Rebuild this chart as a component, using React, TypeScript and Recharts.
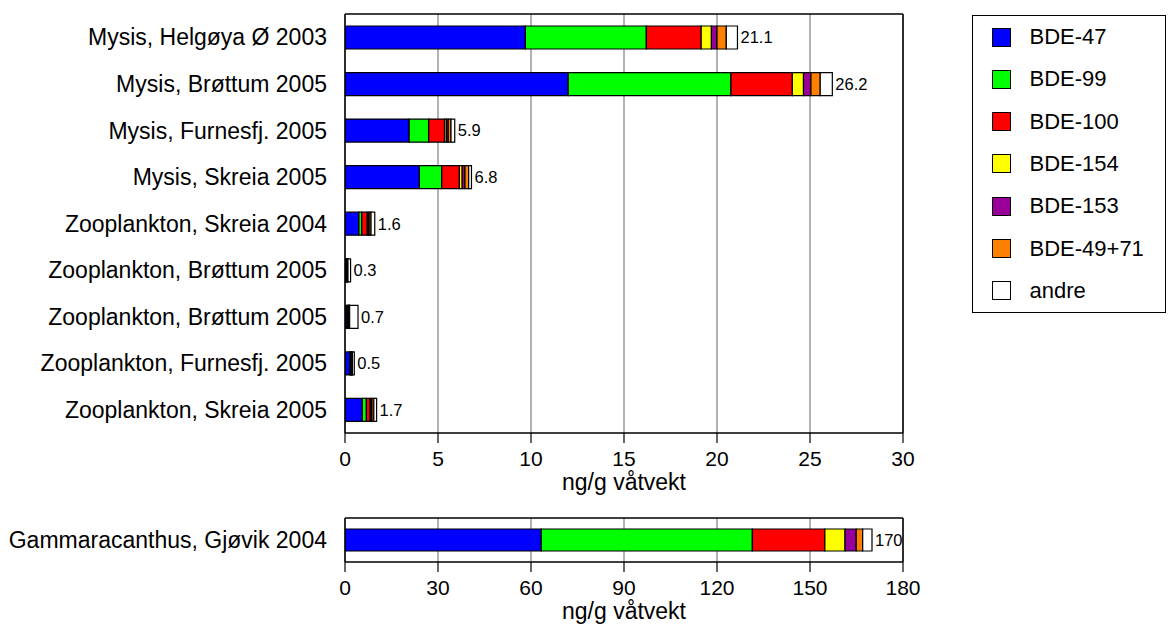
import React from 'react';
import { BarChart, Bar, XAxis, YAxis, CartesianGrid, LabelList } from 'recharts';

// ---- data (top chart, ng/g våtvekt) ----
const categories = [
  'Mysis, Helgøya Ø 2003',
  'Mysis, Brøttum 2005',
  'Mysis, Furnesfj. 2005',
  'Mysis, Skreia 2005',
  'Zooplankton, Skreia 2004',
  'Zooplankton, Brøttum 2005',
  'Zooplankton, Brøttum 2005',
  'Zooplankton, Furnesfj. 2005',
  'Zooplankton, Skreia 2005',
];
const bde47 = [9.7, 12.0, 3.45, 4.0, 0.75, 0.06, 0.1, 0.25, 0.93];
const bde99 = [6.5, 8.75, 1.05, 1.2, 0.15, 0.03, 0.05, 0.05, 0.22];
const bde100 = [2.95, 3.3, 0.85, 0.95, 0.3, 0.03, 0.05, 0.05, 0.2];
const bde154 = [0.55, 0.6, 0.1, 0.15, 0.05, 0.01, 0.02, 0.01, 0.05];
const bde153 = [0.3, 0.4, 0.1, 0.15, 0.05, 0.01, 0.01, 0.01, 0.05];
const bde4971 = [0.5, 0.5, 0.15, 0.2, 0.1, 0.02, 0.02, 0.03, 0.1];
const andre = [0.6, 0.65, 0.2, 0.15, 0.2, 0.14, 0.45, 0.1, 0.15];
const totalLabels = ['21.1', '26.2', '5.9', '6.8', '1.6', '0.3', '0.7', '0.5', '1.7'];

// ---- data (bottom chart) ----
const bottomCategories = ['Gammaracanthus, Gjøvik 2004'];
const gBde47 = [63.3];
const gBde99 = [68.1];
const gBde100 = [23.4];
const gBde154 = [6.5];
const gBde153 = [3.6];
const gBde4971 = [2.1];
const gAndre = [3.0];
const gTotalLabels = ['170'];

// ---- ticks ----
const topXTicks = [0, 5, 10, 15, 20, 25, 30];
const topMinorTicks = [0, 1, 2, 3, 4, 5, 6, 7, 8, 9, 10, 11, 12, 13, 14, 15, 16, 17, 18, 19, 20, 21, 22, 23, 24, 25, 26, 27, 28, 29, 30];
const topBoundaryTicks = [0, 1, 2, 3, 4, 5, 6, 7, 8, 9];
const bottomXTicks = [0, 30, 60, 90, 120, 150, 180];
const bottomMinorTicks = [0, 6, 12, 18, 24, 30, 36, 42, 48, 54, 60, 66, 72, 78, 84, 90, 96, 102, 108, 114, 120, 126, 132, 138, 144, 150, 156, 162, 168, 174, 180];
const bottomBoundaryTicks = [0, 1];

// ---- series ----
const seriesKeys = ['bde47', 'bde99', 'bde100', 'bde154', 'bde153', 'bde4971', 'andre'];
const seriesNames = ['BDE-47', 'BDE-99', 'BDE-100', 'BDE-154', 'BDE-153', 'BDE-49+71', 'andre'];
const seriesColors = ['#0000ff', '#00ff00', '#ff0000', '#ffff00', '#990099', '#ff8000', '#ffffff'];

const topData = categories.map((name, i) => ({
  idx: i,
  name,
  bde47: bde47[i],
  bde99: bde99[i],
  bde100: bde100[i],
  bde154: bde154[i],
  bde153: bde153[i],
  bde4971: bde4971[i],
  andre: andre[i],
  label: totalLabels[i],
}));

const bottomData = bottomCategories.map((name, i) => ({
  idx: i,
  name,
  bde47: gBde47[i],
  bde99: gBde99[i],
  bde100: gBde100[i],
  bde154: gBde154[i],
  bde153: gBde153[i],
  bde4971: gBde4971[i],
  andre: gAndre[i],
  label: gTotalLabels[i],
}));

const FONT = '"Liberation Sans", Arial, Helvetica, sans-serif';
const axisStroke = { stroke: '#000', strokeWidth: 1.5 };
const tickStroke = { stroke: '#000', strokeWidth: 1.2 };

function renderBars(barSize: number) {
  return seriesKeys.map((k, j) => (
    <Bar
      key={k}
      dataKey={k}
      name={seriesNames[j]}
      stackId="s"
      yAxisId="cat"
      fill={seriesColors[j]}
      stroke="#000"
      strokeWidth={1.2}
      barSize={barSize}
      isAnimationActive={false}
    >
      {j === seriesKeys.length - 1 ? (
        <LabelList dataKey="label" position="right" offset={3} fontSize={16.5} fill="#000" />
      ) : null}
    </Bar>
  ));
}

function StackChart(props: {
  data: any[];
  names: string[];
  domainMax: number;
  ticks: number[];
  minorTicks: number[];
  boundaryTicks: number[];
  width: number;
  height: number;
  top: number;
  bottom: number;
  barSize: number;
  catFont: number;
}) {
  const { data, names, domainMax, ticks, minorTicks, boundaryTicks, width, height, top, bottom, barSize, catFont } = props;
  const nRows = data.length;
  return (
    <BarChart
      layout="vertical"
      width={width}
      height={height}
      data={data}
      margin={{ top, right: 56, bottom, left: 0 }}
    >
      <CartesianGrid horizontal={false} stroke="#666" strokeWidth={1} yAxisId="cat" />
      <XAxis
        type="number"
        domain={[0, domainMax]}
        ticks={ticks}
        interval={0}
        tickSize={10}
        tickMargin={8}
        tick={{ fontSize: 21, fill: '#000' }}
        tickLine={tickStroke}
        axisLine={axisStroke}
        height={1}
        allowDataOverflow
        label={{ value: 'ng/g våtvekt', position: 'bottom', offset: 40, fontSize: 23, fill: '#000' }}
      />
      <XAxis
        type="number"
        xAxisId="minor"
        domain={[0, domainMax]}
        ticks={minorTicks}
        interval={0}
        tick={false}
        tickSize={4}
        tickLine={tickStroke}
        axisLine={false}
        height={1}
        allowDataOverflow
      />
      <XAxis
        type="number"
        xAxisId="top"
        orientation="top"
        domain={[0, domainMax]}
        tick={false}
        tickLine={false}
        axisLine={axisStroke}
        height={1}
        allowDataOverflow
      />
      <YAxis
        yAxisId="bnd"
        type="number"
        domain={[0, nRows]}
        ticks={boundaryTicks}
        interval={0}
        tick={false}
        tickSize={11}
        tickLine={tickStroke}
        axisLine={axisStroke}
        width={1}
        allowDataOverflow
      />
      <YAxis
        yAxisId="cat"
        type="category"
        dataKey="idx"
        interval={0}
        tickFormatter={(v: number) => names[v]}
        tick={{ fontSize: catFont, fill: '#000' }}
        tickLine={false}
        tickSize={11}
        tickMargin={6}
        axisLine={false}
        width={344}
      />
      <YAxis
        yAxisId="r"
        orientation="right"
        type="number"
        domain={[0, nRows]}
        tick={false}
        tickLine={false}
        axisLine={axisStroke}
        width={1}
        allowDataOverflow
      />
      {renderBars(barSize)}
    </BarChart>
  );
}

function LegendBox() {
  return (
    <div
      style={{
        position: 'absolute',
        left: 972,
        top: 15,
        width: 194,
        height: 298,
        border: '1.5px solid #000',
        boxSizing: 'border-box',
        display: 'flex',
        flexDirection: 'column',
        fontFamily: FONT,
        fontSize: 22,
        color: '#000',
      }}
    >
      {seriesNames.map((n, j) => (
        <div key={n} style={{ height: 42.3, display: 'flex', alignItems: 'center', paddingLeft: 18.5 }}>
          <div
            style={{
              width: 19,
              height: 19,
              background: seriesColors[j],
              border: '1.5px solid #000',
              boxSizing: 'border-box',
              marginRight: 19,
            }}
          />
          <span>{n}</span>
        </div>
      ))}
    </div>
  );
}

export default function App() {
  return (
    <div
      style={{
        position: 'absolute',
        left: 0,
        top: 0,
        width: 1169,
        height: 626,
        background: '#fff',
        fontFamily: FONT,
        overflow: 'hidden',
      }}
    >
      <div style={{ position: 'absolute', left: 0, top: 0 }}>
        <StackChart
          data={topData}
          names={categories}
          domainMax={30}
          ticks={topXTicks}
          minorTicks={topMinorTicks}
          boundaryTicks={topBoundaryTicks}
          width={960}
          height={500}
          top={13}
          bottom={65}
          barSize={23}
          catFont={23}
        />
      </div>
      <div style={{ position: 'absolute', left: 0, top: 500 }}>
        <StackChart
          data={bottomData}
          names={bottomCategories}
          domainMax={180}
          ticks={bottomXTicks}
          minorTicks={bottomMinorTicks}
          boundaryTicks={bottomBoundaryTicks}
          width={960}
          height={126}
          top={17}
          bottom={62}
          barSize={22}
          catFont={23}
        />
      </div>
      <LegendBox />
    </div>
  );
}
